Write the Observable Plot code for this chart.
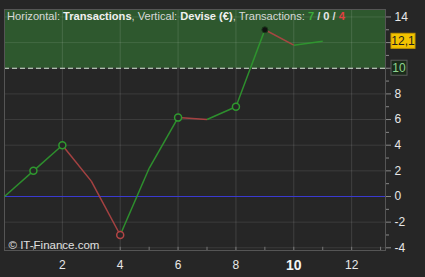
<!DOCTYPE html>
<html>
<head>
<meta charset="utf-8">
<script src="https://cdn.jsdelivr.net/npm/d3@7"></script>
<script src="https://cdn.jsdelivr.net/npm/@observablehq/plot@0.6"></script>
<style>
  html, body { margin: 0; padding: 0; background: #262626; }
  #chart { width: 425px; height: 277px; }
</style>
</head>
<body>
<div id="chart"></div>
<script>
// ---- data ----
const xs = [0, 1, 2, 3, 4, 5, 6, 7, 8, 9, 10, 11];
const values = [0, 2, 4, 1.2, -3, 2.2, 6.15, 6.0, 7.0, 13.0, 11.8, 12.1];
const openMarkers = [1, 2, 4, 6, 8];
const filledMarkers = [9];
const threshold = [10];
const lastValue = [12.1];
const lastLabel = ["12,1"];
const yMajor = [-4, -2, 0, 2, 4, 6, 8, 10, 12, 14];
const yMinor = [-3, -1, 1, 3, 5, 7, 9, 11, 13];
const xGrid = [2, 4, 6, 8, 10, 12];
const xLabels = [2, 4, 6, 8, 12];
const xBold = [10];
const xMinorTicks = [1, 2, 3, 4, 5, 6, 7, 8, 9, 10, 11, 12, 13];
const counts = { up: 7, flat: 0, down: 4 };

const GREEN = "#2f9a2f", RED = "#b24545";
const xDom = [0, 13.17], yDom = [-4.21, 14.58];

const segs = xs.slice(0, -1).map((x, i) => ({
  x1: x, y1: values[i], x2: xs[i + 1], y2: values[i + 1],
  up: values[i + 1] >= values[i]
}));
const pts = xs.map((x, i) => ({ x, y: values[i], up: i === 0 ? true : values[i] >= values[i - 1] }));
const openPts = pts.filter(d => openMarkers.includes(d.x));
const filledPts = pts.filter(d => filledMarkers.includes(d.x));

const chart = Plot.plot({
  width: 425, height: 277,
  marginTop: 9, marginRight: 40, marginBottom: 27, marginLeft: 4,
  style: { background: "#262626", fontFamily: "Liberation Sans, Arial, sans-serif", fontSize: "11px", color: "#ddd" },
  x: { domain: xDom, axis: null },
  y: { domain: yDom, axis: null },
  marks: [
    Plot.rect(threshold, { x1: xDom[0], x2: xDom[1], y1: d => d, y2: yDom[1], fill: "#2e582e" }),
    Plot.gridX(xGrid, { stroke: "#fff", strokeOpacity: 0.12 }),
    Plot.gridY(yMajor, { stroke: "#fff", strokeOpacity: 0.1 }),
    Plot.ruleY([0], { stroke: "#3a3ad0", strokeWidth: 1.2 }),
    Plot.ruleY(threshold, { stroke: "#d8ead8", strokeDasharray: "5,3", strokeWidth: 1.2 }),
    Plot.frame({ stroke: "#555" }),
    Plot.axisY(yMajor, { anchor: "right", tickSize: 5, tickPadding: 4, stroke: "#888", fill: "#e8e8e8", fontSize: 12,
      tickFormat: d => (d === 10 || d === 12) ? "" : String(d) }),
    Plot.axisY(yMinor, { anchor: "right", tickSize: 3, stroke: "#888", tickFormat: () => "" }),
    Plot.ruleX(xMinorTicks, { x: d => d, y1: yDom[0], y2: yDom[0] + 0.25, stroke: "#777" }),
    Plot.text(xLabels, { x: d => d, y: yDom[0], dy: 15, fill: "#e8e8e8", fontSize: 12 }),
    Plot.text(xBold, { x: d => d, y: yDom[0], dy: 15, fill: "#f4f4f4", fontSize: 14, fontWeight: "bold" }),
    Plot.link(segs, { x1: "x1", y1: "y1", x2: "x2", y2: "y2", stroke: d => d.up ? GREEN : RED, strokeWidth: 1.5, strokeOpacity: 0.9 }),
    Plot.dot(openPts, { x: "x", y: "y", r: 3.5, fill: "#262626", stroke: d => d.up ? GREEN : RED, strokeWidth: 1.5 }),
    Plot.dot(filledPts, { x: "x", y: "y", r: 3, fill: "#111", stroke: "#1a3a1a", strokeWidth: 1 }),
    Plot.text(["© IT-Finance.com"], { frameAnchor: "bottom-left", dx: 4, dy: -2, fill: "#e0e0e0", fontSize: 11.5, textAnchor: "start" })
  ]
});

document.getElementById("chart").appendChild(chart);

// Right-side value boxes using the chart's own scales
const svg = d3.select(chart);
const ys = chart.scale("y");
const bx = 391;
function box(v, label, fill, stroke, color, w) {
  const cy = ys.apply(v);
  svg.append("rect").attr("x", bx).attr("y", cy - 7.5).attr("width", w).attr("height", 15)
    .attr("fill", fill).attr("stroke", stroke);
  svg.append("text").attr("x", bx + w / 2).attr("y", cy + 4.5).attr("text-anchor", "middle")
    .attr("fill", color).attr("font-size", 12).attr("font-family", "Liberation Sans, Arial, sans-serif").text(label);
}
box(lastValue[0], lastLabel[0], "#f3c300", "#c89a00", "#1e1e1e", 24);
box(threshold[0], String(threshold[0]), "#1a2b1a", "#5a5a5a", "#8fd38f", 16);

// Header text with styled parts
const t = svg.append("text").attr("x", 7).attr("y", 20).attr("text-anchor", "start")
  .attr("font-family", "Liberation Sans, Arial, sans-serif").attr("font-size", 11.1).attr("fill", "#d8d8d8");
const parts = [
  ["Horizontal: ", "normal", "#d8d8d8"], ["Transactions", "bold", "#f0f0f0"],
  [", Vertical: ", "normal", "#d8d8d8"], ["Devise (€)", "bold", "#f0f0f0"],
  [", Transactions: ", "normal", "#d8d8d8"], [String(counts.up), "bold", "#3cae3c"],
  [" / ", "bold", "#d8d8d8"], [String(counts.flat), "bold", "#e8e8e8"],
  [" / ", "bold", "#d8d8d8"], [String(counts.down), "bold", "#e04040"]
];
parts.forEach(([s, w, c]) => t.append("tspan").attr("font-weight", w).attr("fill", c).text(s));
</script>
</body>
</html>
